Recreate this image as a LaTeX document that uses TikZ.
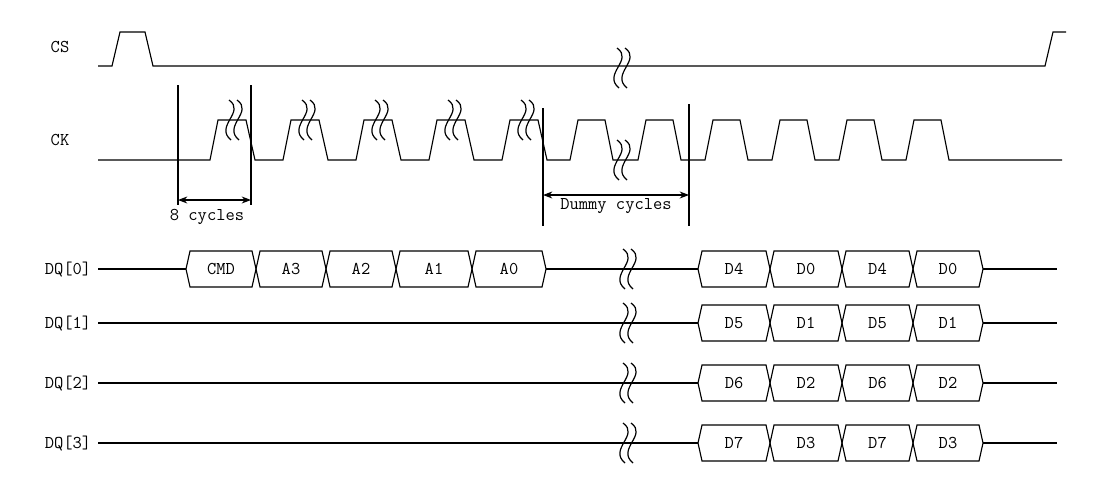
\documentclass[tikz,border=0pt]{standalone}
\usetikzlibrary{arrows.meta}
\begin{document}
\begin{tikzpicture}[x=0.75pt,y=-0.75pt,line width=0.8pt,
  lbl/.style={font=\fontsize{13.5}{15}\selectfont\ttfamily,inner sep=0pt},
  sig/.style={line width=0.85pt},
  brk/.pic={\draw[line width=0.9pt] (-3,-20) .. controls (14,-8) and (-18,6) .. (-1,20);
            \draw[line width=0.9pt] (5,-20) .. controls (22,-8) and (-10,6) .. (7,20);},
  dim/.style={{Stealth[length=7pt]}-{Stealth[length=7pt]},line width=0.8pt}]
\useasboundingbox (0,0) rectangle (1098,493);
% labels
\node[lbl] (cs) at (60,47) {CS};
\node[lbl] (ck) at (60,140) {CK};
\node[lbl] (d0) at (68,269) {DQ[0]};
\node[lbl] (d1) at (68,323) {DQ[1]};
\node[lbl] (d2) at (68,383) {DQ[2]};
\node[lbl] (d3) at (68,443) {DQ[3]};
% CS
\draw[sig] (98,66) -- (112,66) -- (120,32) -- (145,32) -- (153,66) -- (1045,66) -- (1053,32) -- (1066,32);
\pic at (620,68) {brk};
% CK
\draw[sig] (98,160) -- (210,160)
  \foreach \x in {210,283,356,429,502} { -- (\x,160) -- (\x+8,120) -- (\x+36,120) -- (\x+45,160) }
  -- (570,160)
  \foreach \x in {570,638,705,772,839,906} { -- (\x,160) -- (\x+8,120) -- (\x+35,120) -- (\x+43,160) }
  -- (1062,160);
\foreach \x in {232,305,378,451,524} \pic at (\x,120) {brk};
\pic at (620,160) {brk};
% dimension lines
\draw[line width=0.8pt] (178,85) -- (178,205) (251,85) -- (251,205);
\coordinate (a1) at (178,200); \coordinate (a2) at (251,200);
\draw[dim] (a1) -- (a2);
\node[lbl] (eight) at (207,217) {8 cycles};
\draw[line width=0.8pt] (543,108) -- (543,226) (689,104) -- (689,226);
\coordinate (b1) at (543,195); \coordinate (b2) at (689,195);
\draw[dim] (b1) -- (b2);
\node[lbl] (dummy) at (616,206) {Dummy cycles};
% bus cells
\newcommand\cell[4]{% y, x1, x2, text
  \draw[sig] (#2,#1) -- (#2+4,#1-18) -- (#3-4,#1-18) -- (#3,#1) -- (#3-4,#1+18) -- (#2+4,#1+18) -- cycle;
  \node[lbl] at ({(#2+#3)/2},#1) {#4};}
\draw[sig] (98,269) -- (186,269) (546,269) -- (698,269) (983,269) -- (1057,269);
\cell{269}{186}{256}{CMD}\cell{269}{256}{326}{A3}\cell{269}{326}{396}{A2}\cell{269}{396}{472}{A1}\cell{269}{472}{546}{A0}
\foreach \y/\a/\b in {269/D4/D0,323/D5/D1,383/D6/D2,443/D7/D3}{
  \cell{\y}{698}{770}{\a}\cell{\y}{770}{842}{\b}\cell{\y}{842}{913}{\a}\cell{\y}{913}{983}{\b}
  \draw[sig] (983,\y) -- (1057,\y);
  \pic at (626,\y) {brk};}
\foreach \y in {323,383,443} \draw[sig] (98,\y) -- (698,\y);
\end{tikzpicture}
\end{document}
